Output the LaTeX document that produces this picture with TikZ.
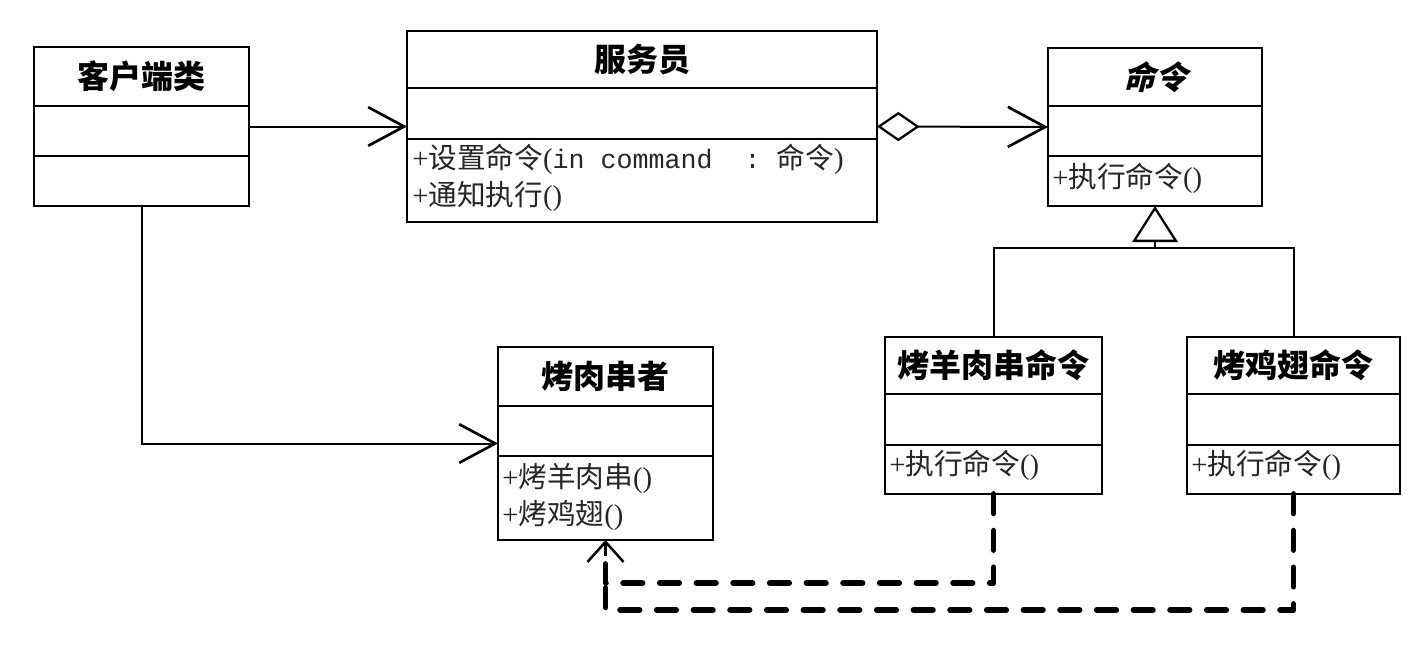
\documentclass[tikz,border=0pt]{standalone}
\usepackage{fontspec}
\setmainfont{Liberation Serif}
\newfontfamily\cjk{Noto Sans CJK SC}
\newfontfamily\cjksl{Noto Sans CJK SC}[FakeSlant=0.25]
\newfontfamily\monof{Liberation Mono}
\usetikzlibrary{arrows.meta,calc}
\newcommand\zh[1]{{\cjk #1}}
\newcommand\mo[1]{{\monof\fontsize{20}{24}\selectfont #1}}
\newcommand\umlclass[8]{%
  \node[classbox, minimum width={(#4-#2)*0.75pt}, minimum height={(#5-#3)*0.75pt}] (#1) at ({(#2+#4)/2},{(#3+#5)/2}) {};
  \draw[divider] (#2,#6) -- (#4,#6);
  \draw[divider] (#2,#7) -- (#4,#7);
  \node[title] (#1-t) at ({(#2+#4)/2},{(#3+#6)/2}) {#8};
}
\begin{document}
\begin{tikzpicture}[x=0.75pt,y=-0.75pt,
  classbox/.style={draw, line width=2.2pt, inner sep=0pt, outer sep=0pt, fill=white},
  divider/.style={line width=2.2pt},
  title/.style={font=\cjk\bfseries\fontsize{24}{28}\selectfont, inner sep=0pt},
  meth/.style={anchor=west, inner sep=0pt, text=black!85, font=\fontsize{21.5}{26}\selectfont},
  conn/.style={line width=1.5pt},
  assoc/.style={conn, -{Straight Barb[length=27pt,width=29pt,line width=2pt]}},
  aggr/.style={conn, {Diamond[open,length=32pt,width=22pt,line width=1.7pt]}-{Straight Barb[length=28pt,width=30pt,line width=2pt]}},
  gen/.style={conn, -{Triangle[open,length=27pt,width=34pt,line width=1.7pt]}},
  dep/.style={line width=4.4pt, dash pattern=on 14.5pt off 13pt, line cap=round, line join=round},
  deptip/.style={-{Straight Barb[length=15pt,width=27pt,line width=1.9pt]}}
]
\fill[white] (0,0) rectangle (1421,644);
\useasboundingbox (0,0) rectangle (1421,644);

\umlclass{A}{34}{47}{249}{206}{106}{156}{客户端类}
\umlclass{B}{407}{31}{877}{222}{88}{139}{服务员}
\umlclass{C}{1048}{48}{1262}{206}{106}{156}{\cjksl\bfseries 命令}
\umlclass{D}{498}{347}{713}{540}{406}{456}{烤肉串者}
\umlclass{E}{885}{337}{1102}{494}{394}{445}{烤羊肉串命令}
\umlclass{F}{1187}{337}{1400}{494}{394}{445}{烤鸡翅命令}

\node[meth] (B-m1) at (412,159) {+\zh{设置命令}(\mo{in~command~~:~}\zh{命令})};
\node[meth] (B-m2) at (412,196) {+\zh{通知执行}()};
\node[meth] (C-m1) at (1052,178) {+\zh{执行命令}()};
\node[meth] (D-m1) at (502,478) {+\zh{烤羊肉串}()};
\node[meth] (D-m2) at (502,515) {+\zh{烤鸡翅}()};
\node[meth] (E-m1) at (889,465) {+\zh{执行命令}()};
\node[meth] (F-m1) at (1191,465) {+\zh{执行命令}()};

% associations
\draw[assoc] (A.east) -- (B.west);
\draw[assoc] (A.south) |- (D.west);
\draw[aggr] (B.east) -- (C.west);

% generalization
\coordinate (tj) at (1155,248);
\draw[conn] (E.north) |- (tj) -| (F.north);
\draw[gen] (tj) -- (C.south);

% dependencies
\coordinate (j1) at (605.5,583);
\coordinate (j2) at (605.5,610);
\coordinate (j3) at (605.5,556);
\draw[dep] (E.south) |- (j1) -- (j3);
\draw[dep] (F.south) |- (j2) -- (j1);
\draw[conn, line width=2pt, deptip] (j3) -- (D.south);
\end{tikzpicture}
\end{document}
